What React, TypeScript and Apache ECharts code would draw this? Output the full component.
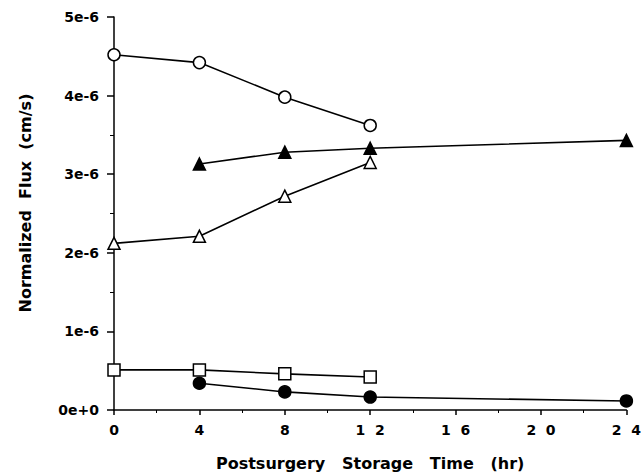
import React, { useEffect, useRef } from "react";
import * as echarts from "echarts";

const xOpenCircle = [0, 4, 8, 12];
const yOpenCircle = [4.52e-6, 4.42e-6, 3.98e-6, 3.62e-6];
const xFilledTriangle = [4, 8, 12, 24];
const yFilledTriangle = [3.13e-6, 3.28e-6, 3.33e-6, 3.43e-6];
const xOpenTriangle = [0, 4, 8, 12];
const yOpenTriangle = [2.12e-6, 2.21e-6, 2.72e-6, 3.15e-6];
const xOpenSquare = [0, 4, 8, 12];
const yOpenSquare = [0.51e-6, 0.51e-6, 0.46e-6, 0.42e-6];
const xFilledCircle = [4, 8, 12, 24];
const yFilledCircle = [0.34e-6, 0.23e-6, 0.165e-6, 0.115e-6];

const xTickLabels: Record<number, string> = { 0: "0", 4: "4", 8: "8", 12: "1  2", 16: "1  6", 20: "2  0", 24: "2  4" };
const yTickLabels = ["0e+0", "1e-6", "2e-6", "3e-6", "4e-6", "5e-6"];
const xTitle = "Postsurgery   Storage   Time   (hr)";
const yTitle = "Normalized  Flux  (cm/s)";

const zip = (xs: number[], ys: number[]) => xs.map((x, i) => [x, ys[i]]);

const FONT = "DejaVu Sans";

export default function App() {
  const ref = useRef<HTMLDivElement>(null);
  useEffect(() => {
    if (!ref.current) return;
    const chart = echarts.init(ref.current, undefined, { renderer: "svg" });
    const line = (data: number[][], symbol: string, filled: boolean, size: number) => ({
      type: "line",
      data,
      symbol,
      symbolSize: size,
      showAllSymbol: true,
      lineStyle: { color: "#000", width: 1.6 },
      itemStyle: { color: filled ? "#000" : "#fff", borderColor: "#000", borderWidth: 1.5 },
      emphasis: { disabled: true },
    });
    chart.setOption({
      animation: false,
      backgroundColor: "#fff",
      grid: { left: 114, right: 12, top: 17, bottom: 64 },
      graphic: [
        {
          type: "text",
          x: 25,
          y: 203,
          rotation: Math.PI / 2,
          style: {
            text: yTitle,
            fontFamily: FONT,
            fontWeight: "bold",
            fontSize: 16,
            fill: "#000",
            align: "center",
            verticalAlign: "middle",
          },
        },
      ],
      xAxis: {
        type: "value",
        min: 0,
        max: 24,
        interval: 4,
        name: xTitle,
        nameLocation: "middle",
        nameGap: 45,
        nameTextStyle: { fontFamily: FONT, fontWeight: "bold", fontSize: 16, color: "#000" },
        axisLine: { lineStyle: { color: "#000", width: 1.5 } },
        axisTick: { show: true, length: 5, lineStyle: { color: "#000", width: 1.5 } },
        minorTick: { show: true, splitNumber: 2, length: 3, lineStyle: { color: "#000", width: 1 } },
        splitLine: { show: false },
        axisLabel: {
          fontFamily: FONT,
          fontWeight: "bold",
          fontSize: 14,
          color: "#000",
          margin: 13,
          formatter: (v: number) => xTickLabels[v] ?? String(v),
        },
      },
      yAxis: {
        type: "value",
        min: 0,
        max: 5e-6,
        interval: 1e-6,
        axisLine: { show: true, lineStyle: { color: "#000", width: 1.5 } },
        axisTick: { show: true, length: 7, lineStyle: { color: "#000", width: 1.5 } },
        minorTick: { show: true, splitNumber: 2, length: 4, lineStyle: { color: "#000", width: 1 } },
        splitLine: { show: false },
        axisLabel: {
          fontFamily: FONT,
          fontWeight: "bold",
          fontSize: 14,
          color: "#000",
          margin: 15,
          formatter: (v: number) => yTickLabels[Math.round(v / 1e-6)] ?? "",
        },
      },
      series: [
        line(zip(xOpenCircle, yOpenCircle), "circle", false, 12),
        line(zip(xFilledTriangle, yFilledTriangle), "triangle", true, 12),
        line(zip(xOpenTriangle, yOpenTriangle), "triangle", false, 12),
        line(zip(xOpenSquare, yOpenSquare), "rect", false, 12),
        line(zip(xFilledCircle, yFilledCircle), "circle", true, 12),
      ],
    });
    return () => chart.dispose();
  }, []);
  return <div ref={ref} style={{ position: "fixed", left: 0, top: 0, width: 644, height: 476 }} />;
}
